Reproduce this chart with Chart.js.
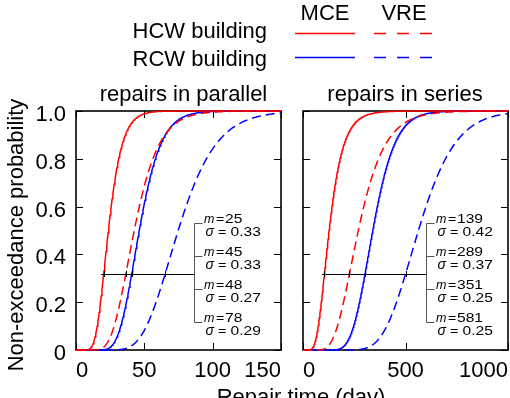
<!DOCTYPE html>
<html>
<head>
<meta charset="utf-8">
<title>Repair time distributions</title>
<script src="https://cdn.jsdelivr.net/npm/chart.js@4.4.1/dist/chart.umd.min.js"></script>
<style>
  html, body { margin: 0; padding: 0; background: #fff; }
  #wrap { position: relative; width: 510px; height: 398px; overflow: hidden; }
  #wrap canvas { position: absolute; left: 0; top: 0; }
</style>
</head>
<body>
<div id="wrap">
  <canvas id="parallel" width="510" height="398"></canvas>
  <canvas id="series" width="510" height="398"></canvas>
</div>
<script>
// ---- data --------------------------------------------------------------
// curve order: HCW/MCE, HCW/VRE, RCW/MCE, RCW/VRE
const curveNames = ['HCW building MCE', 'HCW building VRE', 'RCW building MCE', 'RCW building VRE'];
// lognormal fits (mean repair time m in days, log-standard deviation sigma)
const parallelMean  = [25, 45, 48, 78];
const parallelSigma = [0.33, 0.33, 0.27, 0.29];
const seriesMean    = [139, 289, 351, 581];
const seriesSigma   = [0.42, 0.37, 0.25, 0.25];
const parallelTicksX = [0, 50, 100, 150];
const seriesTicksX   = [0, 500, 1000];
const probTicks      = [0, 0.2, 0.4, 0.6, 0.8, 1.0];
const probTickLabels = ['0', '0.2', '0.4', '0.6', '0.8', '1.0'];

// ---- styling -----------------------------------------------------------
const FONT = "'Liberation Sans', Arial, Helvetica, sans-serif";
const RED = '#ff0000', BLUE = '#0000ff';
const curveColors = [RED, RED, BLUE, BLUE];
const curveDashes = [[], [9, 5], [], [9, 5]];
const TICK_LEN = 7;

// ---- lognormal distribution -------------------------------------------
function erf(x) {
  const s = Math.sign(x); x = Math.abs(x);
  const t = 1 / (1 + 0.3275911 * x);
  const v = 1 - (((((1.061405429 * t - 1.453152027) * t) + 1.421413741) * t
            - 0.284496736) * t + 0.254829592) * t * Math.exp(-x * x);
  return s * v;
}
function lognormalCdf(t, mean, sigma) {
  if (t <= 0) return 0;
  const mu = Math.log(mean) - sigma * sigma / 2;
  return 0.5 * (1 + erf((Math.log(t) - mu) / (sigma * Math.SQRT2)));
}
function lognormalQuantile(p, mean, sigma) {
  let lo = 1e-6, hi = mean * 20;
  for (let k = 0; k < 80; k++) {
    const mid = (lo + hi) / 2;
    if (lognormalCdf(mid, mean, sigma) < p) lo = mid; else hi = mid;
  }
  return (lo + hi) / 2;
}
function timeGrid(max, step) {
  const g = [];
  for (let t = 0; t <= max + 1e-9; t += step) g.push(t);
  return g;
}
function cdfPoints(grid, mean, sigma) {
  return grid.map(t => ({ x: t, y: lognormalCdf(t, mean, sigma) }));
}

// ---- drawing helpers ----------------------------------------------------
function drawText(ctx, str, x, y, o = {}) {
  const size = o.size || 22, sx = o.sx || 1;
  ctx.save();
  ctx.font = (o.italic ? 'italic ' : '') + size + 'px ' + FONT;
  ctx.fillStyle = o.color || '#000';
  ctx.textAlign = o.align || 'left';
  ctx.textBaseline = 'alphabetic';
  ctx.translate(x, y);
  if (o.rotate) ctx.rotate(o.rotate);
  ctx.scale(sx, 1);
  ctx.fillText(str, 0, 0);
  ctx.restore();
}

// frame, inner tick marks, panel title and the parameter call-outs
const panelDecor = {
  id: 'panelDecor',
  beforeDatasetsDraw(chart, args, opts) {
    const { ctx, chartArea: a, scales: { x, y } } = chart;
    ctx.save();
    ctx.strokeStyle = '#000';
    ctx.lineWidth = 1;
    ctx.beginPath();
    x.ticks.forEach(t => {
      const px = Math.round(x.getPixelForValue(t.value)) + 0.5;
      ctx.moveTo(px, a.bottom); ctx.lineTo(px, a.bottom - TICK_LEN);
      ctx.moveTo(px, a.top);    ctx.lineTo(px, a.top + TICK_LEN);
    });
    y.ticks.forEach(t => {
      const py = Math.round(y.getPixelForValue(t.value)) + 0.5;
      ctx.moveTo(a.left, py);  ctx.lineTo(a.left + TICK_LEN, py);
      ctx.moveTo(a.right, py); ctx.lineTo(a.right - TICK_LEN, py);
    });
    ctx.stroke();
    ctx.lineWidth = 1.6;
    ctx.strokeRect(a.left, a.top, a.width, a.height);
    ctx.restore();
    drawText(ctx, opts.title, opts.titleX, a.top - 10, { align: 'center' });
  },
  afterDatasetsDraw(chart, args, opts) {
    const { ctx, scales: { x, y } } = chart;
    const means = opts.means, sigmas = opts.sigmas;
    const levelPx = y.getPixelForValue(opts.level);
    const bx = Math.round(x.getPixelForValue(opts.bracketAt)) + 0.5;
    const cross = means.map((m, i) => x.getPixelForValue(lognormalQuantile(opts.level, m, sigmas[i])));
    const rows = opts.rows.map(v => Math.round(y.getPixelForValue(v)) + 0.5);
    ctx.save();
    // leader line through the curves
    ctx.strokeStyle = '#000';
    ctx.lineWidth = 1;
    ctx.beginPath();
    ctx.moveTo(Math.min(...cross) - 2.5, Math.round(levelPx) + 0.5);
    ctx.lineTo(bx, Math.round(levelPx) + 0.5);
    cross.forEach(cx => {
      const px = Math.round(cx) + 0.5;
      ctx.moveTo(px, levelPx - 3); ctx.lineTo(px, levelPx + 3);
    });
    ctx.stroke();
    // bracket
    ctx.strokeStyle = '#555';
    ctx.beginPath();
    ctx.moveTo(bx, rows[0]); ctx.lineTo(bx, rows[rows.length - 1]);
    rows.forEach(r => { ctx.moveTo(bx, r); ctx.lineTo(bx + 8, r); });
    ctx.stroke();
    ctx.restore();
    // parameter labels
    const x0 = bx + 9.5;
    rows.forEach((r, i) => {
      const b1 = r - 0.5, b2 = r + 12;
      drawText(ctx, 'm', x0, b1, { size: 12.5, italic: true });
      drawText(ctx, '=', x0 + 12, b1, { size: 13, sx: 1.1 });
      drawText(ctx, String(means[i]), x0 + 21, b1, { size: 13, sx: 1.2 });
      drawText(ctx, 'σ', x0 + 1.5, b2, { size: 14, italic: true });
      drawText(ctx, '=', x0 + 14, b2, { size: 13, sx: 1.1 });
      drawText(ctx, sigmas[i].toFixed(2), x0 + 26.5, b2, { size: 13, sx: 1.2 });
    });
  }
};

// legend block and shared axis titles (drawn once, on the left panel)
const figureText = {
  id: 'figureText',
  afterDraw(chart) {
    const ctx = chart.ctx;
    drawText(ctx, 'MCE', 325, 20, { align: 'center' });
    drawText(ctx, 'VRE', 404, 20, { align: 'center' });
    drawText(ctx, 'HCW building', 267, 37.5, { align: 'right' });
    drawText(ctx, 'RCW building', 267, 66, { align: 'right' });
    [[RED, 33.5], [BLUE, 57.5]].forEach(([c, ly]) => {
      ctx.save();
      ctx.strokeStyle = c;
      ctx.lineWidth = 1.6;
      ctx.beginPath(); ctx.moveTo(295, ly); ctx.lineTo(355, ly); ctx.stroke();
      ctx.setLineDash([12, 11]);
      ctx.beginPath(); ctx.moveTo(374, ly); ctx.lineTo(434, ly); ctx.stroke();
      ctx.restore();
    });
    drawText(ctx, 'Non-exceedance probability', 23, 235, { align: 'center', rotate: -Math.PI / 2 });
    drawText(ctx, 'Repair time (day)', 301, 404, { align: 'center' });
  }
};

function makePanel(id, cfg) {
  const grid = timeGrid(cfg.xMax, cfg.step);
  return new Chart(document.getElementById(id), {
    type: 'line',
    data: {
      datasets: cfg.means.map((m, i) => ({
        label: curveNames[i],
        data: cdfPoints(grid, m, cfg.sigmas[i]),
        borderColor: curveColors[i],
        borderDash: curveDashes[i],
        borderWidth: 1.5,
        pointRadius: 0,
        fill: false,
        tension: 0,
        clip: false
      }))
    },
    options: {
      responsive: false,
      animation: false,
      devicePixelRatio: 1,
      events: [],
      layout: { padding: { left: 0, top: 111, right: cfg.padRight, bottom: 18 } },
      plugins: {
        legend: { display: false },
        tooltip: { enabled: false },
        panelDecor: {
          title: cfg.title, titleX: cfg.titleX,
          means: cfg.means, sigmas: cfg.sigmas,
          level: 0.318, bracketAt: cfg.bracketAt,
          rows: [0.53, 0.392, 0.254, 0.116]
        }
      },
      scales: {
        x: {
          type: 'linear', min: 0, max: cfg.xMax,
          afterBuildTicks: s => { s.ticks = cfg.xTicks.map(v => ({ value: v })); },
          afterFit: s => { s.height = 30; },
          grid: { display: false, drawTicks: false },
          border: { display: false },
          ticks: {
            align: 'inner', padding: 0, maxRotation: 0, autoSkip: false,
            color: '#000', font: { family: FONT, size: 22, lineHeight: 1.9 },
            callback: v => String(v)
          }
        },
        y: {
          min: 0, max: 1,
          afterBuildTicks: s => { s.ticks = probTicks.map(v => ({ value: v })); },
          afterFit: s => { s.width = cfg.yWidth; },
          grid: { display: false, drawTicks: false },
          border: { display: false },
          ticks: {
            display: cfg.yLabels, padding: 10, labelOffset: 4,
            color: '#000', font: { family: FONT, size: 22 },
            callback: (v, i) => probTickLabels[probTicks.indexOf(v)] ?? ''
          }
        }
      }
    },
    plugins: cfg.extra ? [panelDecor, figureText] : [panelDecor]
  });
}

makePanel('parallel', {
  means: parallelMean, sigmas: parallelSigma,
  xMax: 150, step: 0.5, xTicks: parallelTicksX,
  yWidth: 76, padRight: 229, yLabels: true,
  title: 'repairs in parallel', titleX: 183.5, bracketAt: 86, extra: true
});
makePanel('series', {
  means: seriesMean, sigmas: seriesSigma,
  xMax: 1000, step: 2.5, xTicks: seriesTicksX,
  yWidth: 303, padRight: 2, yLabels: false,
  title: 'repairs in series', titleX: 405, bracketAt: 600, extra: false
});
</script>
</body>
</html>
